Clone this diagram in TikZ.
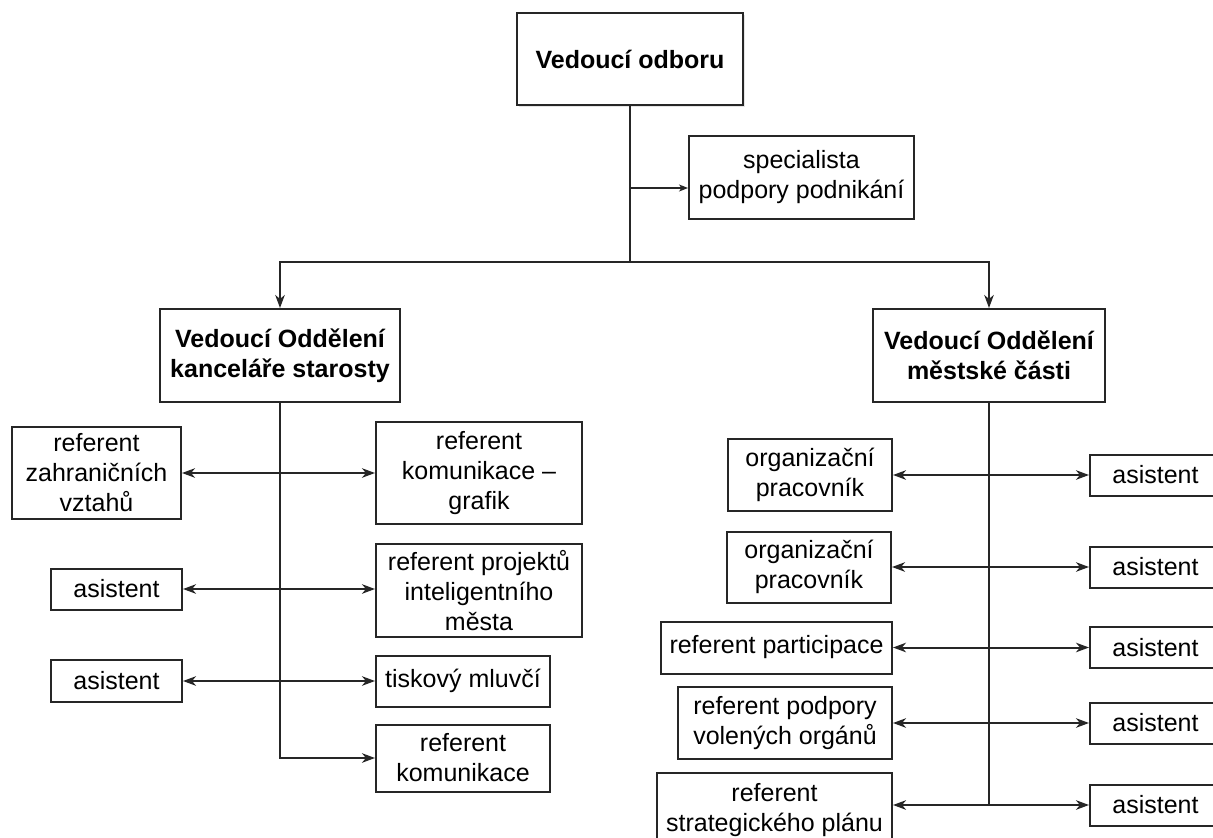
\documentclass[tikz,border=0pt]{standalone}
\usepackage{fontspec}
\setmainfont{Liberation Sans}
\usepackage{tikz}
\usetikzlibrary{arrows.meta}
\usetikzlibrary{shadows}
\tikzset{>={Stealth[length=13pt,width=9.5pt,inset=4pt]}}
\tikzset{
  box/.style={draw=black!85, line width=2pt, fill=white, align=center, inner sep=0pt,
    font=\fontsize{25}{30}\selectfont},
  headbox/.style={box, font=\fontsize{25}{30}\selectfont\bfseries},
  conn/.style={draw=black!85, line width=2pt},
  thinconn/.style={draw=black!85, line width=1.1pt, >={Stealth[length=9pt,width=7pt,inset=2.5pt]}},
}

\begin{document}
\begin{tikzpicture}[x=1pt, y=-1pt]
    \useasboundingbox[fill=white] (0,0) rectangle (1213,838);

    % top
    \node[headbox, minimum width=226pt, minimum height=92pt,
      drop shadow={opacity=0.2, shadow xshift=1.5pt, shadow yshift=-1.5pt}] at (630,59) (vo) {Vedoucí odboru};
    \node[box, minimum width=225pt, minimum height=83pt] at (801.5,177.5) (spec) {specialista\\podpory podnikání};
    \node[headbox, minimum width=240pt, minimum height=93pt] at (280,355.5) (dL) {Vedoucí Oddělení\\kanceláře starosty};
    \node[headbox, minimum width=232pt, minimum height=93pt] at (989,355.5) (dR) {Vedoucí Oddělení\\městské části};

    \coordinate (br) at (630,262);
    \coordinate (sp) at (630,188);
    \draw[conn] (vo) -- (br);
    \draw[conn,->] (br) -| (dL.north);
    \draw[conn,->] (br) -| (dR.north);
    \draw[thinconn,->] (sp) -- (sp -| spec.west);

    % left department
    \node[box, minimum width=169pt, minimum height=92pt] at (96.5,473) (zv) {referent\\zahraničních\\vztahů};
    \node[box, minimum width=206pt, minimum height=102pt] at (479,473) (kg) {referent\\komunikace –\\grafik};
    \node[box, minimum width=131pt, minimum height=41pt] at (116.5,589) (la1) {asistent};
    \node[box, minimum width=206pt, minimum height=93pt] at (479,590.5) (pm) {referent projektů\\inteligentního\\města};
    \node[box, minimum width=131pt, minimum height=42pt] at (116.5,681) (la2) {asistent};
    \node[box, minimum width=174pt, minimum height=51pt] at (463,681) (tm) {tiskový mluvčí};
    \node[box, minimum width=174pt, minimum height=67pt] at (463,758) (rk) {referent\\komunikace};

    \draw[conn,->] (dL.south) |- (rk.west);
    \draw[conn,<->] (zv.east) -- (kg.west);
    \draw[conn,<->] (la1.east) -- (la1.east -| pm.west);
    \draw[conn,<->] (la2.east) -- (tm.west);

    % right department
    \node[box, minimum width=164pt, minimum height=72pt] at (810,475) (o1) {organizační\\pracovník};
    \node[box, minimum width=164pt, minimum height=71pt] at (809,567) (o2) {organizační\\pracovník};
    \node[box, minimum width=231pt, minimum height=52pt] at (776.5,647.5) (rp) {referent participace};
    \node[box, minimum width=214pt, minimum height=72pt] at (785,723) (rv) {referent podpory\\volených orgánů};
    \node[box, minimum width=235pt, minimum height=74pt] at (774.5,810) (rs) {referent\\strategického plánu};

    \node[box, minimum width=131pt, minimum height=41pt] at (1155.5,475) (ra1) {asistent};
    \node[box, minimum width=131pt, minimum height=41pt] at (1155.5,567) (ra2) {asistent};
    \node[box, minimum width=131pt, minimum height=41pt] at (1155.5,647.5) (ra3) {asistent};
    \node[box, minimum width=131pt, minimum height=41pt] at (1155.5,723) (ra4) {asistent};
    \node[box, minimum width=131pt, minimum height=41pt] at (1155.5,805) (ra5) {asistent};

    \draw[conn] (dR.south) -- (dR.south |- ra5.west);
    \draw[conn,<->] (o1.east) -- (ra1.west);
    \draw[conn,<->] (o2.east) -- (ra2.west);
    \draw[conn,<->] (rp.east) -- (ra3.west);
    \draw[conn,<->] (rv.east) -- (ra4.west);
    \draw[conn,<->] (rs.east |- ra5.west) -- (ra5.west);
\end{tikzpicture}
\end{document}
